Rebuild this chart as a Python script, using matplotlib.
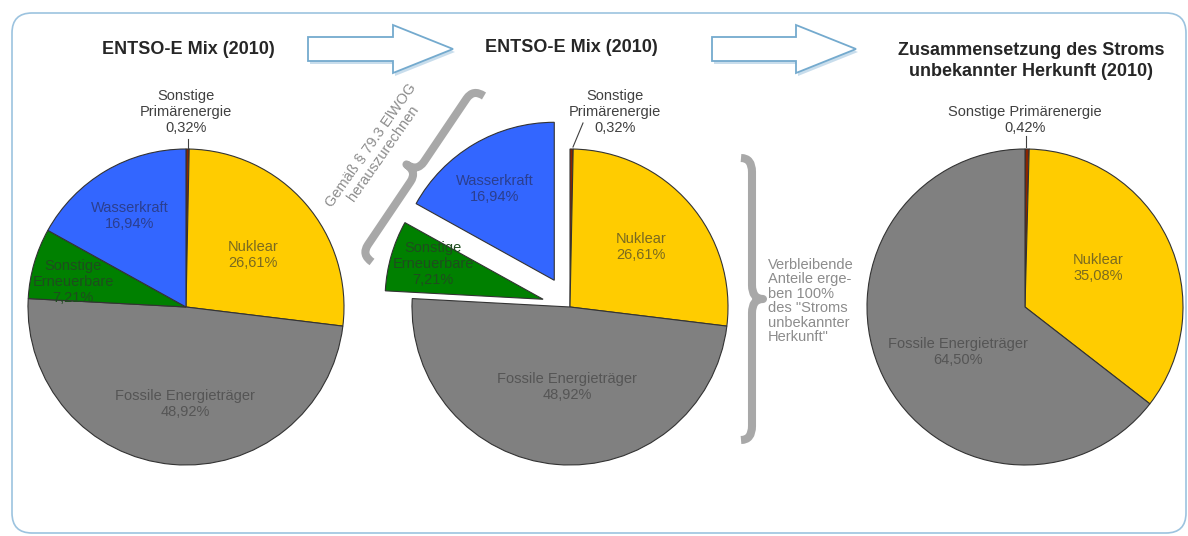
import matplotlib.pyplot as plt
import numpy as np
from matplotlib.patches import FancyBboxPatch, Polygon, PathPatch
from matplotlib.path import Path

plt.rcParams["font.family"] = ["Liberation Sans", "DejaVu Sans"]

W, H = 1188, 536

# --- data -------------------------------------------------------------
ENTSOE_SEGMENTS = ["Sonstige Primärenergie", "Nuklear", "Fossile Energieträger",
                   "Sonstige Erneuerbare", "Wasserkraft"]
ENTSOE_SHARES = [0.32, 26.61, 48.92, 7.21, 16.94]
UNKNOWN_SEGMENTS = ["Sonstige Primärenergie", "Nuklear", "Fossile Energieträger"]
UNKNOWN_SHARES = [0.42, 35.08, 64.50]
REMOVED = ["Sonstige Erneuerbare", "Wasserkraft"]  # § 79.3 ElWOG

TITLES = ["ENTSO-E Mix (2010)", "ENTSO-E Mix (2010)",
          "Zusammensetzung des Stroms\nunbekannter Herkunft (2010)"]
BRACE_NOTE_LEFT = "Gemäß § 79.3 ElWOG\nherauszurechnen"
BRACE_NOTE_RIGHT = "Verbleibende\nAnteile erge-\nben 100%\ndes \"Stroms\nunbekannter\nHerkunft\""

# --- style --------------------------------------------------------------
COLORS = {
    "Sonstige Primärenergie": "#8B2500",
    "Nuklear": "#FFCC00",
    "Fossile Energieträger": "#808080",
    "Sonstige Erneuerbare": "#008000",
    "Wasserkraft": "#3366FF",
}
LABEL_COLORS = {
    "Sonstige Primärenergie": "#404040",
    "Nuklear": "#7A6A20",
    "Fossile Energieträger": "#555555",
    "Sonstige Erneuerbare": "#1E4D1E",
    "Wasserkraft": "#2B3F8F",
}
WRAP = {"Sonstige Erneuerbare": "Sonstige\nErneuerbare",
        "Sonstige Primärenergie": "Sonstige\nPrimärenergie"}

R = 158
# pie centres and label offsets in pixels (y down)
PIES = [
    dict(center=(186, 307), explode=None, wrap_primary=True,
         offsets={"Sonstige Primärenergie": (0, -195), "Nuklear": (67, -52),
                  "Wasserkraft": (-56, -91), "Sonstige Erneuerbare": (-113, -25),
                  "Fossile Energieträger": (-1, 97)},
         leader=((188, 139), (188, 148))),
    dict(center=(570, 307), explode={"Wasserkraft": 31, "Sonstige Erneuerbare": 28},
         wrap_primary=True,
         offsets={"Sonstige Primärenergie": (45, -195), "Nuklear": (71, -60),
                  "Wasserkraft": (-75, -118), "Sonstige Erneuerbare": (-137, -43),
                  "Fossile Energieträger": (-3, 80)},
         leader=((583, 123), (573, 147))),
    dict(center=(1025, 307), explode=None, wrap_primary=False,
         offsets={"Sonstige Primärenergie": (0, -187), "Nuklear": (73, -39),
                  "Fossile Energieträger": (-67, 45)},
         leader=((1026, 136), (1026, 147))),
]
TITLE_POS = [(188, 49), (571, 48), (1031, 61)]


def Y(py):
    return H - py


def pct(v):
    return f"{v:.2f}".replace(".", ",") + "%"


def draw_arrow(ax, x0, xb, xt, yc, body=12, head=24):
    pts = [(x0, yc - body), (xb, yc - body), (xb, yc - head), (xt, yc),
           (xb, yc + head), (xb, yc + body), (x0, yc + body)]
    shadow = [(x + 2, Y(y + 3)) for x, y in pts]
    ax.add_patch(Polygon(shadow, closed=True, facecolor="#BBD5E8", edgecolor="none",
                         alpha=0.8, zorder=2))
    ax.add_patch(Polygon([(x, Y(y)) for x, y in pts], closed=True, facecolor="white",
                         edgecolor="#74AACE", lw=1.3, zorder=3))


def draw_brace(ax, tip_a, tip_b, depth, r):
    a = np.array([tip_a[0], Y(tip_a[1])], float)
    b = np.array([tip_b[0], Y(tip_b[1])], float)
    u = b - a
    L = np.linalg.norm(u)
    u /= L
    n = np.array([-u[1], u[0]])
    h = depth / 2
    local = [(0, 0), (0, h), (r, h), (L / 2 - r, h), (L / 2, h), (L / 2, depth),
             (L / 2, h), (L / 2 + r, h), (L - r, h), (L, h), (L, 0)]
    codes = [Path.MOVETO, Path.CURVE3, Path.CURVE3, Path.LINETO, Path.CURVE3, Path.CURVE3,
             Path.CURVE3, Path.CURVE3, Path.LINETO, Path.CURVE3, Path.CURVE3]
    verts = [a + s * u + t * n for s, t in local]
    ax.add_patch(PathPatch(Path(verts, codes), facecolor="none", edgecolor="#A8A8A8",
                           lw=5.8, capstyle="butt", joinstyle="round", zorder=2))


fig = plt.figure(figsize=(W / 100, H / 100), dpi=100)
ax = fig.add_axes([0, 0, 1, 1])

# frame
ax.add_patch(FancyBboxPatch((12, Y(533)), 1174, 520,
                            boxstyle="round,pad=0,rounding_size=20",
                            facecolor="white", edgecolor="#9CC3DF", lw=1.2, zorder=0))

pie_data = [(ENTSOE_SEGMENTS, ENTSOE_SHARES), (ENTSOE_SEGMENTS, ENTSOE_SHARES),
            (UNKNOWN_SEGMENTS, UNKNOWN_SHARES)]

for (segs, shares), cfg in zip(pie_data, PIES):
    cx, cy = cfg["center"]
    expl = [cfg["explode"].get(s, 0) if cfg["explode"] else 0 for s in segs]
    ax.pie(shares, colors=[COLORS[s] for s in segs], startangle=90, counterclock=False,
           center=(cx, Y(cy)), radius=R, explode=expl,
           wedgeprops=dict(edgecolor="#333333", linewidth=0.8), frame=True)
    for s, v in zip(segs, shares):
        dx, dy = cfg["offsets"][s]
        name = WRAP.get(s, s)
        if s == "Sonstige Primärenergie" and not cfg["wrap_primary"]:
            name = s
        ax.text(cx + dx, Y(cy + dy), f"{name}\n{pct(v)}", ha="center", va="center",
                fontsize=10.5, color=LABEL_COLORS[s], linespacing=1.2, zorder=5)
    (x1, y1), (x2, y2) = cfg["leader"]
    ax.plot([x1, x2], [Y(y1), Y(y2)], color="#404040", lw=0.8, zorder=5)

for (tx, ty), t in zip(TITLE_POS, TITLES):
    ax.text(tx, Y(ty), t, ha="center", va="center", fontsize=13, fontweight="bold",
            color="#262626", linespacing=1.35)

draw_arrow(ax, 308, 393, 453, 49)
draw_arrow(ax, 712, 796, 856, 49)

draw_brace(ax, (372, 262), (484, 96), 26, 12)
draw_brace(ax, (741, 158), (741, 440), 22, 14)

ax.text(377, Y(149), BRACE_NOTE_LEFT, rotation=55, ha="center", va="center",
        fontsize=10.5, color="#8C8C8C", linespacing=1.15)
ax.text(768, Y(301), BRACE_NOTE_RIGHT, ha="left", va="center",
        fontsize=10.5, color="#8C8C8C", linespacing=1.05)

ax.set_xlim(0, W)
ax.set_ylim(0, H)
ax.set_aspect("equal")
ax.axis("off")

fig.savefig("out.png", dpi=100)
